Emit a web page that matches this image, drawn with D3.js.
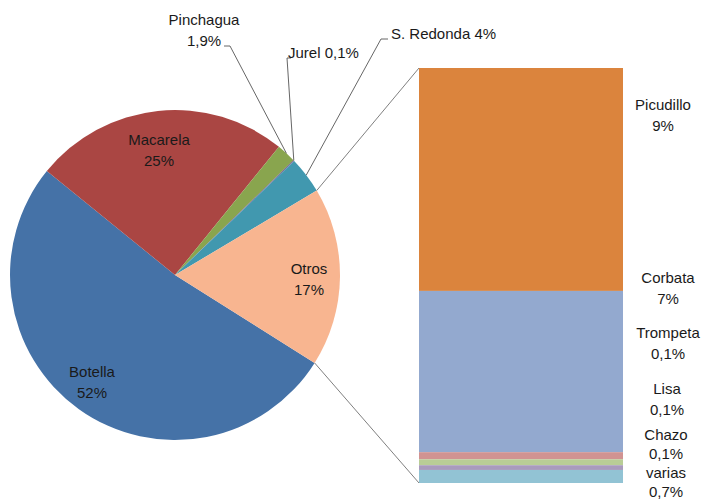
<!DOCTYPE html>
<meta charset="utf-8">
<style>
    body { margin: 0; background: #fff; }
    text { font-family: "Liberation Sans", Arial, sans-serif; font-size: 15px; fill: #1a1a1a; }
</style>
<svg width="702" height="499"></svg>
<script src="https://cdn.jsdelivr.net/npm/d3@7"></script>
<script>
// pie data (percent of catch)
var pieNames  = ["Botella", "Macarela", "Pinchagua", "Jurel", "S. Redonda", "Otros"];
var pieValues = [51.9, 25, 1.9, 0.1, 3.6, 17.5];
var pieLabels = ["52%", "25%", "1,9%", "0,1%", "4%", "17%"];
var pieColors = ["#4572a7", "#aa4643", "#89a54e", "#71588f", "#4198af", "#f8b590"];

// breakdown of "Otros"
var barNames  = ["Picudillo", "Corbata", "Trompeta", "Lisa", "Chazo", "varias"];
var barValues = [9.4, 6.8, 0.3, 0.25, 0.2, 0.55];
var barLabels = ["9%", "7%", "0,1%", "0,1%", "0,1%", "0,7%"];
var barColors = ["#db843d", "#93a9cf", "#d19392", "#b9cd96", "#a99bbd", "#92c3d4"];

var svg = d3.select("svg");
var cx = 175, cy = 275, r = 165;
var toRad = Math.PI / 180;
var start = 122.2 * toRad;

var pie = d3.pie().sort(null).startAngle(start).endAngle(start + 2 * Math.PI);
var arcs = pie(pieValues);
var arc = d3.arc().innerRadius(0).outerRadius(r);
var edge = d3.arc().innerRadius(r).outerRadius(r);

var g = svg.append("g").attr("transform", "translate(" + cx + "," + cy + ")");
g.selectAll("path")
    .data(arcs)
    .enter().append("path")
    .attr("d", arc)
    .attr("fill", function(d, i) { return pieColors[i]; });

function pointAt(a) {
    return [cx + r * Math.sin(a), cy - r * Math.cos(a)];
}

// bar of the "Otros" slice
var barX = 419, barW = 204;
var total = d3.sum(barValues);
var y = d3.scaleLinear().domain([0, total]).range([68, 483]);
var cum = d3.cumsum(barValues);
svg.selectAll("rect.part")
    .data(barValues)
    .enter().append("rect")
    .attr("class", "part")
    .attr("x", barX)
    .attr("width", barW)
    .attr("y", function(d, i) { return y(cum[i] - d); })
    .attr("height", function(d) { return y(d) - y(0); })
    .attr("fill", function(d, i) { return barColors[i]; });

// connector lines between pie and bar
var otros = arcs[5];
var p1 = pointAt(otros.startAngle), p2 = pointAt(otros.endAngle);
svg.append("line").attr("x1", p1[0]).attr("y1", p1[1]).attr("x2", barX).attr("y2", y(0))
    .attr("stroke", "#808080").attr("stroke-width", 1);
svg.append("line").attr("x1", p2[0]).attr("y1", p2[1]).attr("x2", barX).attr("y2", y(total))
    .attr("stroke", "#808080").attr("stroke-width", 1);

// leader lines for the small slices
function edgePoint(i) {
    var c = edge.centroid(arcs[i]);
    return [cx + c[0], cy + c[1]];
}
var lead = d3.line();
var pp = edgePoint(2), pj = edgePoint(3), ps = edgePoint(4);
[
    [[224, 46], [230, 46], pp],
    [[291, 58], [287, 58], pj],
    [[388, 39], [381, 39], ps]
].forEach(function(pts) {
    svg.append("path").attr("d", lead(pts)).attr("fill", "none")
        .attr("stroke", "#555").attr("stroke-width", 0.9);
});

// labels
function label(x, yy, lines, anchor, gap) {
    var t = svg.append("text").attr("x", x).attr("y", yy).attr("text-anchor", anchor || "middle");
    lines.forEach(function(s, k) {
        t.append("tspan").attr("x", x).attr("dy", k ? (gap || 20.5) : 0).text(s);
    });
}
label(92, 377, [pieNames[0], pieLabels[0]]);
label(159, 145, [pieNames[1], pieLabels[1]]);
label(204, 25, [pieNames[2], pieLabels[2]]);
label(288, 58, [pieNames[3] + " " + pieLabels[3]], "start");
label(391, 39, [pieNames[4] + " " + pieLabels[4]], "start");
label(309, 274, [pieNames[5], pieLabels[5]]);

var barLabelPos = [[663, 110], [668, 283], [668, 338], [667, 394], [666, 440], [666, 478]];
var barGaps = [20.5, 20.5, 20.5, 20.5, 19, 19];
barNames.forEach(function(n, i) {
    label(barLabelPos[i][0], barLabelPos[i][1], [n, barLabels[i]], "middle", barGaps[i]);
});
</script>
